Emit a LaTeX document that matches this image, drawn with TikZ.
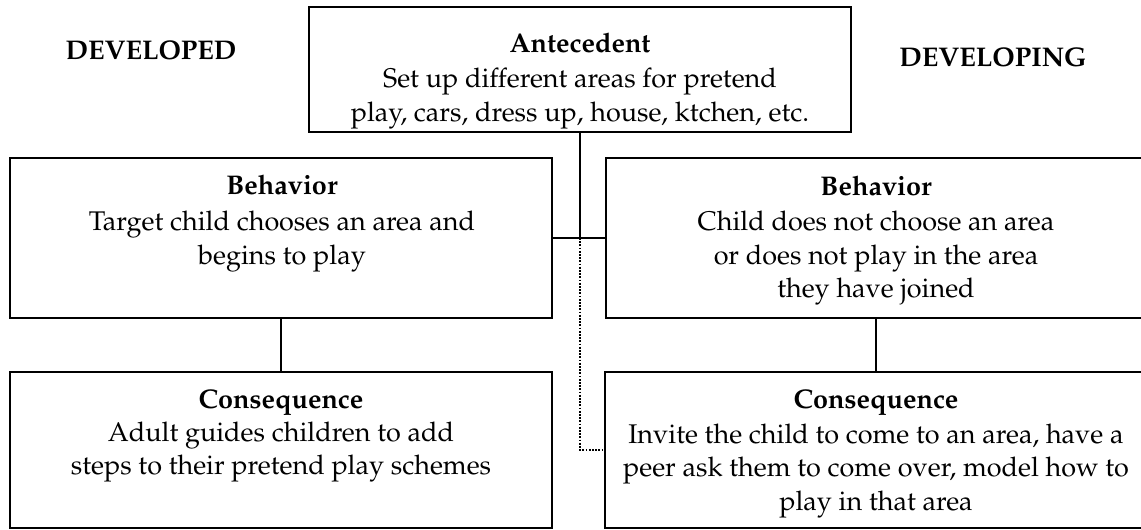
\documentclass[tikz,border=0pt]{standalone}
\usepackage[T1]{fontenc}
\usepackage{mathpazo}
\begin{document}
\begin{tikzpicture}[x=1pt,y=-1pt,
  box/.style={draw, rectangle, line width=1.8pt, inner sep=0pt},
  txt/.style={anchor=base, inner sep=0pt, font=\fontsize{27}{32}\selectfont},
  hd/.style={anchor=base, inner sep=0pt, font=\fontsize{27}{32}\selectfont\bfseries},
  conn/.style={line width=1.8pt},
  dots/.style={line width=1.8pt, dash pattern=on 1.8pt off 1.4pt}]
\useasboundingbox (0,0) rectangle (1141,530);
% boxes
\node[box, minimum width=542pt, minimum height=125pt] (ant) at (580,69.5) {};
\node[box, minimum width=542pt, minimum height=160pt] (lb) at (281,238) {};
\node[box, minimum width=540pt, minimum height=160pt] (rb) at (876,238) {};
\node[box, minimum width=542pt, minimum height=156pt] (lc) at (281,450) {};
\node[box, minimum width=542pt, minimum height=156pt] (rc) at (876,450) {};
% side titles
\node[hd] (tdev) at (151,59) {DEVELOPED};
\node[hd] (tdvg) at (993,66) {DEVELOPING};
% antecedent text
\node[hd]  (a0) at (580,52)  {Antecedent};
\node[txt] (a1) at (580,87)  {Set up different areas for pretend};
\node[txt] (a2) at (580,121) {play, cars, dress up, house, ktchen, etc.};
% left behavior
\node[hd]  (lb0) at (282,194) {Behavior};
\node[txt] (lb1) at (282,230) {Target child chooses an area and};
\node[txt] (lb2) at (282,264) {begins to play};
% right behavior
\node[hd]  (rb0) at (876,195) {Behavior};
\node[txt] (rb1) at (876,230) {Child does not choose an area};
\node[txt] (rb2) at (876,264) {or does not play in the area};
\node[txt] (rb3) at (876,297) {they have joined};
% left consequence
\node[hd]  (lc0) at (281,408) {Consequence};
\node[txt] (lc1) at (281,441) {Adult guides children to add};
\node[txt] (lc2) at (281,474) {steps to their pretend play schemes};
% right consequence
\node[hd]  (rc0) at (876,408) {Consequence};
\node[txt] (rc1) at (876,443) {Invite the child to come to an area, have a};
\node[txt] (rc2) at (876,476) {peer ask them to come over, model how to};
\node[txt] (rc3) at (876,510) {play in that area};
% connectors
\coordinate (j) at (ant.south |- lb.east);
\draw[conn] (ant.south) -- (j);
\draw[conn] (lb.east) -- (rb.west);
\draw[conn] (lb.south) -- (lc.north);
\draw[conn] (rb.south) -- (rc.north);
\draw[dots] (j) |- (rc.west);
\end{tikzpicture}
\end{document}
